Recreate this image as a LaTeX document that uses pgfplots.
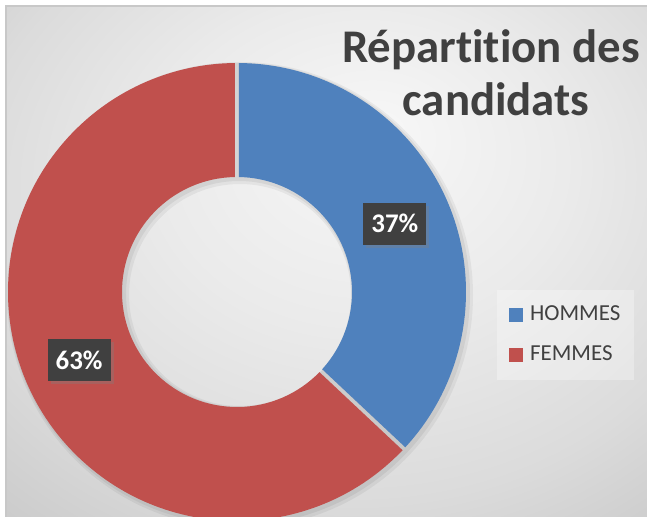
\documentclass[border=0pt]{standalone}
\usepackage{pgfplots}
\pgfplotsset{compat=1.18}
\usepackage{pgfplotstable}
\usepackage{fontspec}
\setmainfont{Carlito}[Ligatures=NoCommon]
\usetikzlibrary{calc,shadows}
\definecolor{hblue}{HTML}{4F81BD}
\definecolor{hred}{HTML}{C0504D}
\definecolor{tgray}{HTML}{404040}
\definecolor{bordergray}{HTML}{C8C8C8}
\pgfdeclareradialshading{bgshade}{\pgfpoint{4bp}{13bp}}{%
  color(0bp)=(white!97!black);
  color(16bp)=(white!92!black);
  color(30bp)=(white!86!black);
  color(44bp)=(white!77!black);
  color(60bp)=(white!74!black)}

\pgfplotstableread{
label value
HOMMES 37
FEMMES 63
}\piedata

\begin{document}
\begin{tikzpicture}
\pgfplotstablegetelem{0}{value}\of\piedata \let\vA\pgfplotsretval
\pgfplotstablegetelem{1}{value}\of\piedata \let\vB\pgfplotsretval
\pgfmathsetmacro\tot{\vA+\vB}
\pgfmathsetmacro\aS{90}
\pgfmathsetmacro\aM{90-\vA/\tot*360}
\pgfmathsetmacro\aE{\aM-\vB/\tot*360}
\pgfmathsetmacro\mA{(\aS+\aM)/2}
\pgfmathsetmacro\mB{(\aM+\aE)/2}
\pgfmathsetmacro\dO{asin(2/229)}
\pgfmathsetmacro\dI{asin(2/115)}
\pgfmathtruncatemacro\pA{round(\vA/\tot*100)}
\pgfmathtruncatemacro\pB{round(\vB/\tot*100)}
\begin{axis}[
  x=1bp, y=1bp, xmin=0, xmax=647, ymin=0, ymax=517,
  hide axis, clip=false,
  legend image code/.code={\path[#1, fill opacity=1] (0bp,-7bp) rectangle (14bp,7bp);},
  legend style={at={(axis cs:497,137)}, anchor=south west, draw=none,
    fill=white, fill opacity=0.3, text opacity=1, text=tgray,
    font=\fontsize{23}{27}\selectfont, inner xsep=12bp, inner ysep=15bp,
    row sep=20bp, column sep=5bp,
    nodes={inner xsep=2bp, inner ysep=0bp, text height=16bp, text depth=4bp}},
  legend cell align=left,
  every even column/.append style={text width=102bp},
]
% background
\fill[white] (axis cs:0,0) rectangle (axis cs:647,517);
\shade[shading=bgshade] (axis cs:6,0) rectangle (axis cs:647,511);
\draw[bordergray, line width=1.6bp] (axis cs:6,0) -- (axis cs:6,511) -- (axis cs:647,511);
% shadow of ring
\fill[black, opacity=0.05, even odd rule] (axis cs:240,222) circle[radius=233bp] (axis cs:240,222) circle[radius=111bp];
\fill[black, opacity=0.06, even odd rule] (axis cs:239,223) circle[radius=231bp] (axis cs:239,223) circle[radius=113bp];
% HOMMES slice
\fill[hblue] ($(axis cs:237,225)+(\aS-\dO:229bp)$) arc[start angle=\aS-\dO, end angle=\aM+\dO, radius=229bp]
  -- ($(axis cs:237,225)+(\aM+\dI:115bp)$) arc[start angle=\aM+\dI, end angle=\aS-\dI, radius=115bp] -- cycle;
% FEMMES slice
\fill[hred] ($(axis cs:237,225)+(\aM-\dO:229bp)$) arc[start angle=\aM-\dO, end angle=\aE+\dO, radius=229bp]
  -- ($(axis cs:237,225)+(\aE+\dI:115bp)$) arc[start angle=\aE+\dI, end angle=\aM-\dI, radius=115bp] -- cycle;
% data labels
\node[fill=tgray, text=white, font=\bfseries\fontsize{27}{30}\selectfont,
  minimum width=63bp, minimum height=42bp, inner sep=0pt,
  drop shadow={shadow xshift=3bp, shadow yshift=-3bp, opacity=0.35}]
  at ($(axis cs:237,225)+(\mA:172bp)$) {\pA\%};
\node[fill=tgray, text=white, font=\bfseries\fontsize{27}{30}\selectfont,
  minimum width=63bp, minimum height=42bp, inner sep=0pt,
  drop shadow={shadow xshift=3bp, shadow yshift=-3bp, opacity=0.35}]
  at ($(axis cs:237,225)+(\mB:172bp)$) {\pB\%};
% title
\node[anchor=base, text=tgray, font=\bfseries\fontsize{47}{55}\selectfont] at (axis cs:491,455) {Répartition des};
\node[anchor=base, text=tgray, font=\bfseries\fontsize{47}{55}\selectfont] at (axis cs:496,402) {candidats};
% legend
\addlegendimage{fill=hblue, draw=none}
\addlegendentry{HOMMES}
\addlegendimage{fill=hred, draw=none}
\addlegendentry{FEMMES}
\end{axis}
\pgfresetboundingbox
\useasboundingbox (0,0) rectangle (647bp,517bp);
\end{tikzpicture}
\end{document}
